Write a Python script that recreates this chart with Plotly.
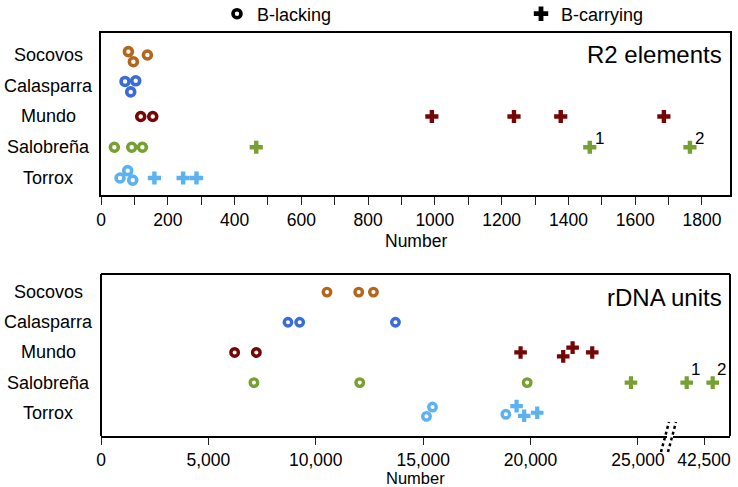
import plotly.graph_objects as go

# ---------------- data ----------------
populations = ["Socovos", "Calasparra", "Mundo", "Salobreña", "Torrox"]
row_index = {"Socovos": 4, "Calasparra": 3, "Mundo": 2, "Salobreña": 1, "Torrox": 0}
colors = {"Socovos": "#B3661C", "Calasparra": "#3A6BD9", "Mundo": "#760606",
          "Salobreña": "#76A032", "Torrox": "#5CB1F0"}

# R2 elements (number of copies)
r2_lacking = {
    "Socovos": [82, 97, 139],
    "Calasparra": [72, 104, 89],
    "Mundo": [119, 155],
    "Salobreña": [40, 92, 124],
    "Torrox": [57, 80, 95],
}
r2_lacking_jitter = {
    "Socovos": [0.11, -0.22, 0.0],
    "Calasparra": [0.14, 0.16, -0.2],
    "Mundo": [0.0, 0.0],
    "Salobreña": [0.0, 0.0, 0.0],
    "Torrox": [0.0, 0.24, -0.07],
}
r2_carrying = {
    "Mundo": [991, 1237, 1377, 1686],
    "Salobreña": [465, 1464, 1764],
    "Torrox": [160, 246, 286],
}
r2_carrying_jitter = {
    "Mundo": [0, 0, 0, 0],
    "Salobreña": [0, 0, 0],
    "Torrox": [0, 0, 0],
}
r2_labels = [("Salobreña", 1464, "1"), ("Salobreña", 1764, "2")]

# rDNA units
rdna_lacking = {
    "Socovos": [10522, 11999, 12684],
    "Calasparra": [8705, 9250, 13709],
    "Mundo": [6221, 7232],
    "Salobreña": [7120, 12046, 19842],
    "Torrox": [15153, 15433, 18849],
}
rdna_lacking_jitter = {
    "Socovos": [0, 0, 0],
    "Calasparra": [0, 0, 0],
    "Mundo": [0, 0],
    "Salobreña": [0, 0, 0],
    "Torrox": [-0.12, 0.19, -0.05],
}
rdna_carrying = {
    "Mundo": [19534, 21519, 21957, 22871],
    "Salobreña": [24674, 41694, 42905],
    "Torrox": [19348, 19702, 20308],
}
rdna_carrying_jitter = {
    "Mundo": [0, -0.13, 0.16, 0],
    "Salobreña": [0, 0, 0],
    "Torrox": [0.22, -0.1, 0],
}
rdna_labels = [("Salobreña", 41694, "1"), ("Salobreña", 42905, "2")]

top_ticks = [0, 200, 400, 600, 800, 1000, 1200, 1400, 1600, 1800]
bottom_ticks_left = [0, 5000, 10000, 15000, 20000, 25000]
bottom_ticks_right = [42500]
axis_break = 30000

# ---------------- layout helpers ----------------
L, R, T, B = 101, 730, 33, 436
W, H = R - L, B - T
def px(x):
    return (x - L) / W
def py(y):
    return (B - y) / H

FONT = "Arial, Liberation Sans, sans-serif"
lack_marker = lambda c, s, w: dict(symbol="circle-open", size=s, color=c, line=dict(width=w, color=c))
carry_marker = lambda c, s: dict(symbol="cross", size=s, color=c, line=dict(width=0))

fig = go.Figure()

# top panel
for p in populations:
    if p in r2_lacking:
        fig.add_trace(go.Scatter(
            x=r2_lacking[p], y=[row_index[p] + j for j in r2_lacking_jitter[p]],
            mode="markers", marker=lack_marker(colors[p], 8, 3.6),
            showlegend=False, xaxis="x", yaxis="y", hoverinfo="x"))
    if p in r2_carrying:
        fig.add_trace(go.Scatter(
            x=r2_carrying[p], y=[row_index[p] + j for j in r2_carrying_jitter[p]],
            mode="markers", marker=carry_marker(colors[p], 11),
            showlegend=False, xaxis="x", yaxis="y", hoverinfo="x"))

# bottom panel
for p in populations:
    if p in rdna_lacking:
        fig.add_trace(go.Scatter(
            x=rdna_lacking[p], y=[row_index[p] + j for j in rdna_lacking_jitter[p]],
            mode="markers", marker=lack_marker(colors[p], 7.5, 3.4),
            showlegend=False, xaxis="x2", yaxis="y2", hoverinfo="x"))
    if p in rdna_carrying:
        vals = rdna_carrying[p]
        jit = rdna_carrying_jitter[p]
        left = [(v, j) for v, j in zip(vals, jit) if v < axis_break]
        right = [(v, j) for v, j in zip(vals, jit) if v >= axis_break]
        if left:
            fig.add_trace(go.Scatter(
                x=[v for v, _ in left], y=[row_index[p] + j for _, j in left],
                mode="markers", marker=carry_marker(colors[p], 10.5),
                showlegend=False, xaxis="x2", yaxis="y2", hoverinfo="x"))
        if right:
            fig.add_trace(go.Scatter(
                x=[v for v, _ in right], y=[row_index[p] + j for _, j in right],
                mode="markers", marker=carry_marker(colors[p], 10.5),
                showlegend=False, xaxis="x3", yaxis="y2", hoverinfo="x"))

# legend entries (two separate legends, placed like the reference)
fig.add_trace(go.Scatter(x=[None], y=[None], mode="markers", name="B-lacking", legend="legend",
                         marker=lack_marker("black", 8, 3.6), xaxis="x", yaxis="y"))
fig.add_trace(go.Scatter(x=[None], y=[None], mode="markers", name="B-carrying", legend="legend2",
                         marker=carry_marker("black", 12), xaxis="x", yaxis="y"))

tickfont = dict(family=FONT, size=17.5, color="black")
legfont = dict(family=FONT, size=18, color="black")
fig.update_layout(
    width=738, height=487,
    margin=dict(l=L, r=738 - R, t=T, b=487 - B, autoexpand=False),
    paper_bgcolor="white", plot_bgcolor="white",
    font=dict(family=FONT, color="black"),
    showlegend=True,
    legend=dict(orientation="h", xref="container", yref="container",
                x=217 / 738, y=1 - 14 / 487, xanchor="left", yanchor="middle",
                font=legfont, itemclick=False, itemdoubleclick=False,
                bgcolor="rgba(0,0,0,0)"),
    legend2=dict(orientation="h", xref="container", yref="container",
                 x=521 / 738, y=1 - 14 / 487, xanchor="left", yanchor="middle",
                 font=legfont, itemclick=False, itemdoubleclick=False,
                 bgcolor="rgba(0,0,0,0)"),
    xaxis=dict(domain=[0, 1], anchor="y", range=[0, 1884],
               tickvals=top_ticks, ticks="outside", ticklen=8, tickwidth=1.3, tickcolor="#222",
               minor=dict(dtick=100, ticks="outside", ticklen=8, tickwidth=1.3, tickcolor="#222"),
               showline=True, linewidth=2, linecolor="black", mirror=True,
               showgrid=False, zeroline=False, tickfont=tickfont, fixedrange=True),
    yaxis=dict(domain=[py(195), 1], anchor="x", range=[-0.553, 4.715],
               showticklabels=False, ticks="", showgrid=False, zeroline=False,
               showline=True, linewidth=2, linecolor="black", mirror=True, fixedrange=True),
    xaxis2=dict(domain=[0, px(667)], anchor="y2", range=[0, (667 - 101.5) / 0.02146],
                tickvals=bottom_ticks_left, tickformat=",", ticks="outside", ticklen=7,
                tickwidth=1.3, tickcolor="#222",
                showline=True, linewidth=2, linecolor="black",
                showgrid=False, zeroline=False, tickfont=tickfont, fixedrange=True),
    xaxis3=dict(domain=[px(673), 1], anchor="y2",
                range=[42500 - (704 - 673) / 0.02146, 42500 + (730 - 704) / 0.02146],
                tickvals=bottom_ticks_right, tickformat=",", ticks="outside", ticklen=7,
                tickwidth=1.3, tickcolor="#222",
                showline=True, linewidth=2, linecolor="black",
                showgrid=False, zeroline=False, tickfont=tickfont, fixedrange=True),
    yaxis2=dict(domain=[0, py(274)], anchor="x2", range=[-0.77, 4.6],
                showticklabels=False, ticks="", showgrid=False, zeroline=False,
                showline=False, fixedrange=True),
)

# frame of bottom panel (left, top, right) and axis break marks
line_style = dict(color="black", width=2)
fig.add_shape(type="line", xref="paper", yref="paper", x0=0, x1=0, y0=0, y1=py(274), line=line_style)
fig.add_shape(type="line", xref="paper", yref="paper", x0=0, x1=1, y0=py(274), y1=py(274), line=line_style)
fig.add_shape(type="line", xref="paper", yref="paper", x0=1, x1=1, y0=0, y1=py(274), line=line_style)
for dx in (0, 7):
    fig.add_shape(type="line", xref="paper", yref="paper",
                  x0=px(661 + dx), y0=py(452), x1=px(669 + dx), y1=py(422),
                  line=dict(color="black", width=2.5, dash="dot"))

annotations = []
catfont = dict(family=FONT, size=18, color="black")
for p in populations:
    annotations.append(dict(text=p, x=px(48), xref="paper", y=row_index[p], yref="y",
                            showarrow=False, xanchor="center", yanchor="middle", font=catfont))
    annotations.append(dict(text=p, x=px(48), xref="paper", y=row_index[p], yref="y2",
                            showarrow=False, xanchor="center", yanchor="middle", font=catfont))
for p, v, t in r2_labels:
    annotations.append(dict(text=t, x=v, y=row_index[p], xref="x", yref="y", showarrow=False,
                            xshift=10, yshift=9, font=dict(family=FONT, size=17, color="black")))
for p, v, t in rdna_labels:
    annotations.append(dict(text=t, x=v, y=row_index[p], xref="x3", yref="y2", showarrow=False,
                            xshift=9, yshift=13, font=dict(family=FONT, size=17, color="black")))
annotations.append(dict(text="R2 elements", x=px(724), y=py(55), xref="paper", yref="paper",
                        showarrow=False, xanchor="right", yanchor="middle",
                        font=dict(family=FONT, size=24, color="black")))
annotations.append(dict(text="rDNA units", x=px(724), y=py(297), xref="paper", yref="paper",
                        showarrow=False, xanchor="right", yanchor="middle",
                        font=dict(family=FONT, size=24, color="black")))
annotations.append(dict(text="Number", x=0.5, y=py(241), xref="paper", yref="paper",
                        showarrow=False, xanchor="center", yanchor="middle",
                        font=dict(family=FONT, size=17.5, color="black")))
annotations.append(dict(text="Number", x=0.5, y=py(478), xref="paper", yref="paper",
                        showarrow=False, xanchor="center", yanchor="middle",
                        font=dict(family=FONT, size=16.5, color="black")))
fig.update_layout(annotations=annotations)

fig.write_html("out.html", config={"displayModeBar": False},
               post_script="document.body.style.margin='0px';")
